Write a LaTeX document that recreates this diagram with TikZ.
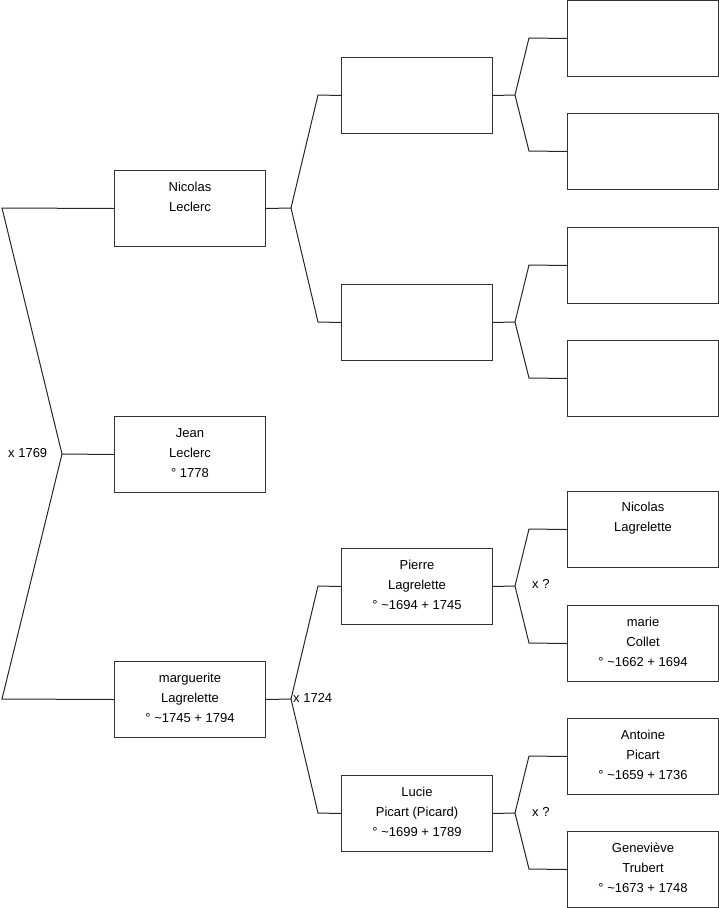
\documentclass[tikz,border=0pt]{standalone}
\usepackage{fontspec}
\setmainfont{Liberation Sans}
\begin{document}
\begin{tikzpicture}[x=1pt,y=-1pt,
  box/.style={draw=black!80,line width=1pt,minimum width=151pt,minimum height=76pt,inner sep=0pt,anchor=north west},
  txt/.style={anchor=north,align=center,inner sep=0pt,font=\fontsize{13}{20}\selectfont},
  lbl/.style={inner sep=0pt,font=\fontsize{13}{20}\selectfont},
  conn/.style={draw=black!85,line width=1pt}]
\useasboundingbox (0,0) rectangle (719,908);
% boxes
\node[box] (n1) at (114,170) {};
\node[box] (j1) at (114,416) {};
\node[box] (m1) at (114,661) {};
\node[box] (a2) at (341,57) {};
\node[box] (b2) at (341,284) {};
\node[box] (p2) at (341,548) {};
\node[box] (l2) at (341,775) {};
\node[box] (c3) at (567,0) {};
\node[box] (d3) at (567,113) {};
\node[box] (e3) at (567,227) {};
\node[box] (f3) at (567,340) {};
\node[box] (g3) at (567,491) {};
\node[box] (h3) at (567,605) {};
\node[box] (i3) at (567,718) {};
\node[box] (k3) at (567,831) {};
% texts
\node[txt] (tn1) at ([yshift=-7pt]n1.north) {\strut Nicolas\\Leclerc};
\node[txt] (tj1) at ([yshift=-7pt]j1.north) {\strut Jean\\Leclerc\\° 1778};
\node[txt] (tm1) at ([yshift=-7pt]m1.north) {\strut marguerite\\Lagrelette\\° \textasciitilde1745 + 1794};
\node[txt] (tp2) at ([yshift=-7pt]p2.north) {\strut Pierre\\Lagrelette\\° \textasciitilde1694 + 1745};
\node[txt] (tl2) at ([yshift=-7pt]l2.north) {\strut Lucie\\Picart (Picard)\\° \textasciitilde1699 + 1789};
\node[txt] (tg3) at ([yshift=-6pt]g3.north) {\strut Nicolas\\Lagrelette};
\node[txt] (th3) at ([yshift=-7pt]h3.north) {\strut marie\\Collet\\° \textasciitilde1662 + 1694};
\node[txt] (ti3) at ([yshift=-7pt]i3.north) {\strut Antoine\\Picart\\° \textasciitilde1659 + 1736};
\node[txt] (tk3) at ([yshift=-7pt]k3.north) {\strut Geneviève\\Trubert\\° \textasciitilde1673 + 1748};
% fork coordinates
\coordinate (r1) at (2,208);
\coordinate (r2) at (2,699);
\coordinate (f0) at (62,454);
\coordinate (fn) at (291,208);
\coordinate (fna) at (318,95);
\coordinate (fnb) at (318,322);
\coordinate (fm) at (291,699);
\coordinate (fmp) at (318,586);
\coordinate (fml) at (318,813);
\coordinate (fa) at (515,95);
\coordinate (fac) at (529,38);
\coordinate (fad) at (529,151);
\coordinate (fb) at (515,322);
\coordinate (fbe) at (529,265);
\coordinate (fbf) at (529,378);
\coordinate (fp) at (515,586);
\coordinate (fpg) at (529,529);
\coordinate (fph) at (529,643);
\coordinate (fl) at (515,813);
\coordinate (fli) at (529,756);
\coordinate (flk) at (529,869);
% connectors
\draw[conn] (n1.west) -- (r1) -- (f0) -- (r2) -- (m1.west);
\draw[conn] (f0) -- (j1.west);
\draw[conn] (a2.west) -- (fna) -- (fn) -- (fnb) -- (b2.west);
\draw[conn] (fn) -- (n1.east);
\draw[conn] (p2.west) -- (fmp) -- (fm) -- (fml) -- (l2.west);
\draw[conn] (fm) -- (m1.east);
\draw[conn] (c3.west) -- (fac) -- (fa) -- (fad) -- (d3.west);
\draw[conn] (fa) -- (a2.east);
\draw[conn] (e3.west) -- (fbe) -- (fb) -- (fbf) -- (f3.west);
\draw[conn] (fb) -- (b2.east);
\draw[conn] (g3.west) -- (fpg) -- (fp) -- (fph) -- (h3.west);
\draw[conn] (fp) -- (p2.east);
\draw[conn] (i3.west) -- (fli) -- (fl) -- (flk) -- (k3.west);
\draw[conn] (fl) -- (l2.east);
% labels
\node[lbl,anchor=west] (x0) at (8,453) {x 1769};
\node[lbl,anchor=west] (x1) at (293,698) {x 1724};
\node[lbl,anchor=west] (x2) at (532,584) {x ?};
\node[lbl,anchor=west] (x3) at (532,812) {x ?};
\end{tikzpicture}
\end{document}
